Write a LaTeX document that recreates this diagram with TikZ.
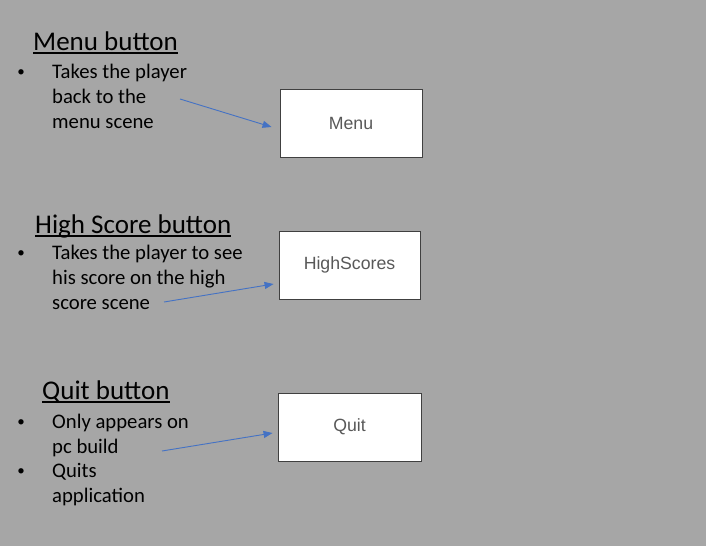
\documentclass[tikz,border=0pt]{standalone}
\usepackage{fontspec}
\setmainfont{Carlito}
\newfontfamily\btnfont{Liberation Sans}
\usetikzlibrary{arrows.meta}
\definecolor{slidebg}{HTML}{A6A6A6}
\definecolor{arrowblue}{HTML}{4472C4}
\definecolor{btnline}{HTML}{404040}
\definecolor{btntext}{HTML}{595959}
\newcommand{\hdline}[1]{\setbox0\hbox{#1}\rlap{\rule[-3.6pt]{\wd0}{1.5pt}}\box0}

\begin{document}
\begin{tikzpicture}[x=1pt,y=-1pt,>={Triangle[length=9pt,width=7pt]},
  btn/.style={draw=btnline,line width=0.9pt,fill=white,minimum height=68pt,
              font=\btnfont\fontsize{17.7}{20}\selectfont,text=btntext},
  head/.style={anchor=base west,inner sep=0pt,font=\fontsize{27}{32}\selectfont},
  item/.style={anchor=base west,inner sep=0pt,align=left,font=\fontsize{20.7}{25}\selectfont},
  dot/.style={anchor=base,inner sep=0pt,font=\fontsize{15}{18}\selectfont},
  link/.style={->,line width=0.9pt,arrowblue}]
\fill[slidebg] (0,0) rectangle (706,546);
\useasboundingbox (0,0) rectangle (706,546);
% buttons
\node[btn,minimum width=142pt] (menubtn) at (351,123)   {\raisebox{-1.5pt}{Menu}};
\node[btn,minimum width=141pt] (hsbtn)   at (349.5,265) {\raisebox{-1.5pt}{HighScores}};
\node[btn,minimum width=143pt] (quitbtn) at (349.5,427) {\raisebox{-1.5pt}{Quit}};
% headings and bullet text (anchored on the last line)
\node[head] (menuhd) at (33,50)  {\hdline{Menu button}};
\node[head] (hshd)   at (35,233) {\hdline{High Score button}};
\node[head] (quithd) at (42,399) {\hdline{Quit button}};
\foreach \y in {78,259,428,477}
  {\node[dot] (dot\y) at (21,\y-1.5) {•};}
\node[item] (menutxt)  at (52,128) {Takes the player\\back to the\\menu scene};
\node[item] (hstxt)    at (52,309) {Takes the player to see\\his score on the high\\score scene};
\node[item] (quittxt)  at (52,453) {Only appears on\\pc build};
\node[item] (quittxt2) at (52,502) {Quits\\application};
% arrows
\coordinate (menufrom) at (180,99);
\coordinate (hsfrom)   at (164,302);
\coordinate (quitfrom) at (162,451);
\draw[link] (menufrom) -- ([xshift=-8pt,yshift=-4pt]menubtn.west);
\draw[link] (hsfrom)   -- ([xshift=-5pt,yshift=-19pt]hsbtn.west);
\draw[link] (quitfrom) -- ([xshift=-5pt,yshift=-6pt]quitbtn.west);
\end{tikzpicture}
\end{document}
